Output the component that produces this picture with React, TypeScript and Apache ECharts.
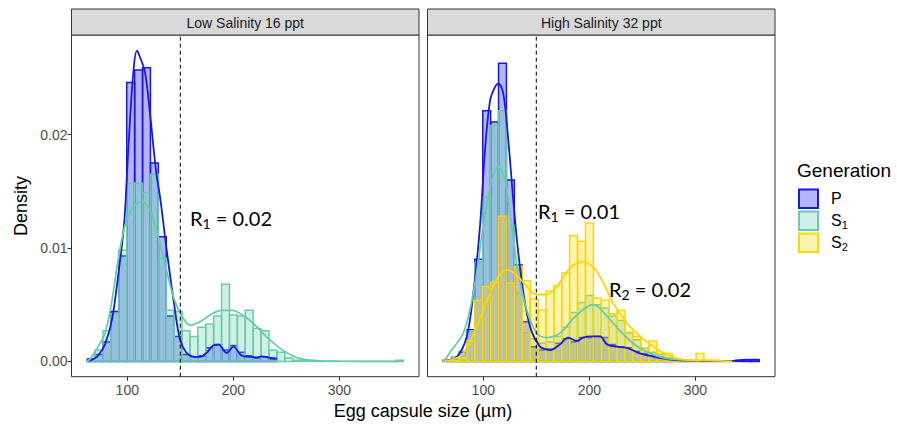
import React, { useEffect, useRef } from 'react';
import * as echarts from 'echarts';

// ---------- data ----------
const BIN_START = 62.25;
const BIN_WIDTH = 7.45;

const panels = ['Low Salinity 16 ppt', 'High Salinity 32 ppt'];
const xTicks = [100, 200, 300];
const yTicks = [0, 0.01, 0.02];
const cutoff = 150;

// histogram densities per bin (bin k spans BIN_START + k*BIN_WIDTH ...)
const lowP = [0.0002, 0.0006, 0.0017, 0.0044, 0.0093, 0.0246, 0.0257, 0.0259, 0.0175, 0.011, 0.004, 0.0022, 0.0006, 0.0004, 0.0005, 0.0012, 0.0015, 0.001, 0.0014, 0.0008, 0.0005, 0.0003, 0.0004, 0.0002];
const lowS1 = [0.0001, 0.001, 0.0027, 0.0042, 0.0098, 0.0157, 0.0157, 0.0149, 0.0165, 0.0091, 0.0045, 0.0044, 0.0027, 0.0022, 0.003, 0.0033, 0.004, 0.0068, 0.0041, 0.004, 0.0045, 0.0029, 0.0027, 0.001, 0.0008, 0.0003, 0.0001, 0.0001, 0, 0, 0, 0, 0, 0, 0, 0, 0, 0, 0, 0.0001];
const highP = [0.0001, 0.0002, 0.0008, 0.0028, 0.009, 0.0221, 0.0211, 0.0263, 0.016, 0.0085, 0.0035, 0.0013, 0.001, 0.0011, 0.0016, 0.002, 0.0017, 0.0021, 0.0021, 0.0022, 0.0021, 0.0015, 0.0013, 0.0012, 0.0009, 0.0007, 0.0005, 0.0004, 0.0002, 0.0001, 0, 0, 0, 0, 0, 0, 0, 0.0001, 0.00015, 0.00015];
const highS1 = [0.0001, 0.0004, 0.0009, 0.0027, 0.0087, 0.0145, 0.0208, 0.0221, 0.012, 0.006, 0.0025, 0.002, 0.0016, 0.0017, 0.0022, 0.003, 0.0043, 0.0052, 0.0058, 0.005, 0.0047, 0.004, 0.0036, 0.0025, 0.0019, 0.0012, 0.0008, 0.0006, 0.0003, 0.0002, 0.0001];
const highS2 = [0, 0.0001, 0.0003, 0.0018, 0.0054, 0.0066, 0.007, 0.0128, 0.0069, 0.0084, 0.0071, 0.0055, 0.0045, 0.0062, 0.0067, 0.0078, 0.0111, 0.0106, 0.0122, 0.0056, 0.0054, 0.0042, 0.0045, 0.0026, 0.0022, 0.0012, 0.0018, 0.0007, 0.0007, 0.0002, 0.0001, 0.0001, 0.0007, 0.0001, 0.0001, 0, 0];

// density curves [size, density]
const lowPCurve = [[63, 0], [67.7, 0.0002], [72.4, 0.0005], [79, 0.0015], [85.6, 0.0037], [91.3, 0.0075], [96.9, 0.012], [99.7, 0.0165], [102.6, 0.0213], [106.4, 0.0262], [109.2, 0.0274], [112.1, 0.0268], [116.7, 0.0255], [121.5, 0.0218], [127.1, 0.0168], [130.9, 0.0145], [137.2, 0.0098], [145, 0.0045], [149.8, 0.0019], [155.4, 0.0008], [161.1, 0.00045], [168.6, 0.0004], [175.2, 0.0008], [180.9, 0.0014], [186, 0.00147], [193.8, 0.00074], [200, 0.0013], [208, 0.0005], [215, 0.0004], [221.5, 0.00035], [227.1, 0.00045], [234.7, 0.0003], [241.3, 0.00024]];
const lowS1Curve = [[63, 0], [69.6, 0.00085], [79, 0.0025], [85.6, 0.0054], [91.3, 0.0089], [97.9, 0.012], [105.4, 0.0136], [113.9, 0.0141], [121.5, 0.0133], [129, 0.0111], [136.6, 0.0082], [144.1, 0.0055], [151.6, 0.004], [159.2, 0.0032], [168.6, 0.0035], [179.9, 0.0042], [189.4, 0.0045], [198.8, 0.0045], [210.1, 0.004], [220.5, 0.0032], [229.9, 0.0023], [239.4, 0.0015], [248.8, 0.00085], [258.2, 0.0004], [267.7, 0.00015], [281.8, 0.00005], [300, 0.00002], [360, 0]];
const highPCurve = [[62.3, 0], [75, 0.0004], [84.4, 0.0022], [90.6, 0.006], [96.9, 0.0119], [101.6, 0.0186], [106.4, 0.023], [111.1, 0.0242], [114.2, 0.0245], [118.9, 0.0236], [123.6, 0.0195], [128.3, 0.0142], [133.1, 0.0095], [139.4, 0.0051], [145.7, 0.0026], [153.5, 0.0013], [158, 0.0011], [163, 0.001], [172.4, 0.0015], [179.9, 0.0021], [188.4, 0.0018], [194.1, 0.0021], [202, 0.0022], [210.1, 0.0022], [216.7, 0.0015], [226.2, 0.0013], [235.3, 0.0012], [247.7, 0.0007], [257, 0.0005], [266, 0.0003], [280, 0.00012], [300, 0.00005], [337.5, 0.00005], [347, 0.00015], [360, 0.00015]];
const highS1Curve = [[63.9, 0.0001], [68.6, 0.0008], [81.2, 0.0025], [90.6, 0.006], [100, 0.0119], [108, 0.016], [114.2, 0.0172], [120.5, 0.016], [126.8, 0.0119], [133.1, 0.0078], [141, 0.0045], [150.4, 0.0025], [159.9, 0.0021], [172.4, 0.0025], [185, 0.0038], [197.6, 0.0048], [203.8, 0.005], [216.5, 0.004], [229, 0.0027], [241.3, 0.0016], [251, 0.001], [266.7, 0.0004], [282.5, 0.00015], [304.5, 0.00005]];
const highS2Curve = [[62, 0], [72, 0.0002], [81.2, 0.0007], [93.8, 0.0031], [106.4, 0.006], [115, 0.0076], [122.1, 0.0081], [131.6, 0.0076], [141, 0.0066], [150.4, 0.0059], [159.9, 0.0059], [169.3, 0.0066], [181.8, 0.0082], [192.9, 0.0088], [203.8, 0.0083], [213.3, 0.0069], [222.7, 0.0051], [235.3, 0.0034], [247.9, 0.0022], [260.4, 0.0013], [273.1, 0.0006], [288.7, 0.00015], [304.5, 0.0001], [334.7, 0]];

const annotations = [
  { text: '{a|R}{b|1}{a| = 0.02}', x: 190, y: 218 },
  { text: '{a|R}{b|1}{a| = 0.01}', x: 538, y: 211 },
  { text: '{a|R}{b|2}{a| = 0.02}', x: 609, y: 289 },
];

// ---------- styles ----------
const X_MIN = 47.4;
const X_MAX = 375.1;
const Y_MIN = -0.00135;
const Y_MAX = 0.02878;
const GRID_TOP = 35;
const GRID_H = 341.7;
const GRID_W = 347.5;
const GRID_LEFTS = [71.5, 427.5];

const P_LINE = '#1818E6';
const P_FILL = 'rgba(0,0,255,0.29)';
const S1_LINE = '#66CDAA';
const S1_FILL = 'rgba(102,205,170,0.3)';
const S2_LINE = '#FFD700';
const S2_FILL = 'rgba(255,215,0,0.3)';
const AXIS_FONT = 'Liberation Sans, Arial, sans-serif';
const NOTE_FONT = 'Lato, sans-serif';

function binsOf(arr: number[]) {
  return arr.map((d, k) => [BIN_START + k * BIN_WIDTH, BIN_START + (k + 1) * BIN_WIDTH, d]);
}

function barSeries(arr: number[], fill: string, stroke: string, gi: number, z: number) {
  return {
    type: 'custom',
    xAxisIndex: gi,
    yAxisIndex: gi,
    z,
    dimensions: ['x0', 'x1', 'd'],
    encode: { x: [0, 1], y: 2 },
    data: binsOf(arr),
    renderItem: (params: any, api: any) => {
      const p0 = api.coord([api.value(0), api.value(2)]);
      const p1 = api.coord([api.value(1), 0]);
      const h = p1[1] - p0[1];
      if (h < 0.6) {
        return {
          type: 'line',
          shape: { x1: p0[0], y1: p1[1], x2: p1[0], y2: p1[1] },
          style: { stroke, lineWidth: 1.5 },
        };
      }
      return {
        type: 'rect',
        shape: { x: p0[0], y: p0[1], width: p1[0] - p0[0], height: h },
        style: { fill, stroke, lineWidth: 1.5 },
      };
    },
  };
}

function curveSeries(pts: number[][], color: string, gi: number, z: number) {
  return {
    type: 'line',
    xAxisIndex: gi,
    yAxisIndex: gi,
    z,
    data: pts,
    smooth: 0.35,
    showSymbol: false,
    symbol: 'none',
    lineStyle: { color, width: 1.8 },
  };
}

function cutoffSeries(gi: number) {
  return {
    type: 'line',
    xAxisIndex: gi,
    yAxisIndex: gi,
    z: 20,
    data: [[cutoff, Y_MIN], [cutoff, Y_MAX]],
    showSymbol: false,
    symbol: 'none',
    lineStyle: { color: '#000', width: 1, type: [4, 3] },
  };
}

export default function App() {
  const ref = useRef<HTMLDivElement>(null);
  useEffect(() => {
    if (!ref.current) return;
    const chart = echarts.init(ref.current, undefined, { renderer: 'svg' });

    const grids = GRID_LEFTS.map((left) => ({
      left, top: GRID_TOP, width: GRID_W, height: GRID_H,
      show: true, borderColor: '#333333', borderWidth: 1, backgroundColor: '#ffffff',
      containLabel: false,
    }));

    const xAxes = GRID_LEFTS.map((_, gi) => ({
      type: 'value', gridIndex: gi, min: X_MIN, max: X_MAX,
      axisLine: { show: false, onZero: false },
      splitLine: { show: false },
      axisTick: { show: true, length: 4, lineStyle: { color: '#333333' }, customValues: xTicks },
      axisLabel: { customValues: xTicks, color: '#4D4D4D', fontSize: 14, fontFamily: AXIS_FONT, margin: 6 },
    }));

    const yAxes = GRID_LEFTS.map((_, gi) => ({
      type: 'value', gridIndex: gi, min: Y_MIN, max: Y_MAX,
      axisLine: { show: false, onZero: false },
      splitLine: { show: false },
      axisTick: { show: gi === 0, length: 4, lineStyle: { color: '#333333' }, customValues: yTicks },
      axisLabel: {
        show: gi === 0, customValues: yTicks, color: '#4D4D4D', fontSize: 14, fontFamily: AXIS_FONT, margin: 4,
        formatter: (v: number) => v.toFixed(2),
      },
    }));

    const series: any[] = [
      barSeries(lowP, P_FILL, P_LINE, 0, 2),
      barSeries(lowS1, S1_FILL, S1_LINE, 0, 3),
      curveSeries(lowPCurve, P_LINE, 0, 5),
      curveSeries(lowS1Curve, S1_LINE, 0, 6),
      cutoffSeries(0),
      barSeries(highP, P_FILL, P_LINE, 1, 2),
      barSeries(highS1, S1_FILL, S1_LINE, 1, 3),
      barSeries(highS2, S2_FILL, S2_LINE, 1, 4),
      curveSeries(highPCurve, P_LINE, 1, 5),
      curveSeries(highS1Curve, S1_LINE, 1, 6),
      curveSeries(highS2Curve, S2_LINE, 1, 7),
      cutoffSeries(1),
    ];

    const graphic: any[] = [];
    panels.forEach((label, i) => {
      graphic.push({
        type: 'rect', z: 50,
        shape: { x: GRID_LEFTS[i], y: 9, width: GRID_W, height: GRID_TOP - 9 },
        style: { fill: '#D9D9D9', stroke: '#333333', lineWidth: 1 },
      });
      graphic.push({
        type: 'text', z: 51, x: GRID_LEFTS[i] + GRID_W / 2, y: 22.5,
        style: {
          text: label, fontSize: 14, fontFamily: AXIS_FONT, fill: '#1A1A1A',
          align: 'center', verticalAlign: 'middle', textAlign: 'center', textVerticalAlign: 'middle',
        },
      });
    });

    // axis titles
    graphic.push({
      type: 'text', z: 51, x: 423, y: 411,
      style: {
        text: 'Egg capsule size (\u00b5m)', fontSize: 18, fontFamily: AXIS_FONT, fill: '#000',
        align: 'center', verticalAlign: 'middle', textAlign: 'center', textVerticalAlign: 'middle',
      },
    });
    graphic.push({
      type: 'text', z: 51, x: 21, y: 206, rotation: Math.PI / 2,
      style: {
        text: 'Density', fontSize: 18, fontFamily: AXIS_FONT, fill: '#000',
        align: 'center', verticalAlign: 'middle', textAlign: 'center', textVerticalAlign: 'middle',
      },
    });

    // annotations
    annotations.forEach((a) => {
      graphic.push({
        type: 'text', z: 60, x: a.x, y: a.y,
        style: {
          text: a.text, align: 'left', verticalAlign: 'middle', textAlign: 'left', textVerticalAlign: 'middle',
          rich: {
            a: { fontSize: 20, fontFamily: NOTE_FONT, fill: '#000', lineHeight: 24, verticalAlign: 'middle' },
            b: { fontSize: 14, fontFamily: NOTE_FONT, fill: '#000', lineHeight: 13, verticalAlign: 'bottom' },
          },
        },
      });
    });

    // legend
    graphic.push({
      type: 'text', z: 60, x: 797, y: 170,
      style: {
        text: 'Generation', fontSize: 19, fontFamily: AXIS_FONT, fill: '#000',
        align: 'left', verticalAlign: 'middle', textAlign: 'left', textVerticalAlign: 'middle',
      },
    });
    const legendItems = [
      { fill: P_FILL, stroke: P_LINE, text: '{a|P}', y: 188.5 },
      { fill: S1_FILL, stroke: S1_LINE, text: '{a|S}{b|1}', y: 210.5 },
      { fill: S2_FILL, stroke: S2_LINE, text: '{a|S}{b|2}', y: 232.5 },
    ];
    legendItems.forEach((it) => {
      graphic.push({
        type: 'rect', z: 60,
        shape: { x: 799, y: it.y + 1, width: 19, height: 18.5 },
        style: { fill: it.fill, stroke: it.stroke, lineWidth: 2 },
      });
      graphic.push({
        type: 'text', z: 60, x: 831, y: it.y + 10,
        style: {
          text: it.text, align: 'left', verticalAlign: 'middle', textAlign: 'left', textVerticalAlign: 'middle',
          rich: {
            a: { fontSize: 16, fontFamily: AXIS_FONT, fill: '#000', lineHeight: 20, verticalAlign: 'middle' },
            b: { fontSize: 11, fontFamily: AXIS_FONT, fill: '#000', lineHeight: 11, verticalAlign: 'bottom' },
          },
        },
      });
    });

    chart.setOption({
      animation: false,
      backgroundColor: '#ffffff',
      grid: grids,
      xAxis: xAxes,
      yAxis: yAxes,
      series,
      graphic,
    });
    return () => chart.dispose();
  }, []);

  return (
    <div
      ref={ref}
      style={{ position: 'fixed', left: 0, top: 0, width: 897, height: 425, background: '#fff' }}
    />
  );
}
